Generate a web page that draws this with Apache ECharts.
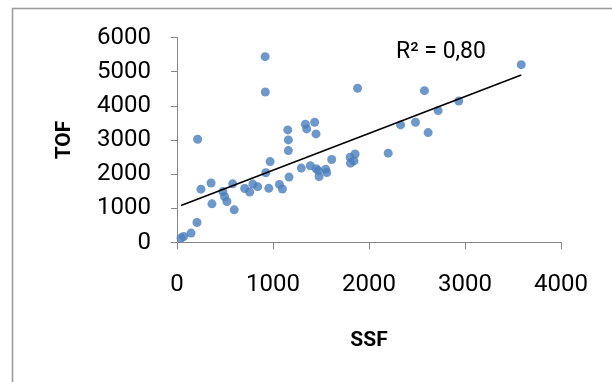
<!DOCTYPE html>
<html>
<head>
<meta charset="utf-8">
<script src="https://cdn.jsdelivr.net/npm/echarts@6/dist/echarts.min.js"></script>
<style>
html,body{margin:0;padding:0;background:#fff;}
#chart{width:612px;height:382px;}
</style>
</head>
<body>
<div id="chart"></div>
<script>
// Data
const ssf = [42, 69, 146, 208, 215, 249, 355, 364, 478, 495, 520, 580, 596, 705, 757, 790, 840, 918, 920, 925, 956, 970, 1067, 1098, 1154, 1160, 1160, 1167, 1295, 1337, 1351, 1389, 1434, 1448, 1450, 1480, 1472, 1549, 1560, 1611, 1803, 1807, 1843, 1855, 1881, 2200, 2329, 2484, 2578, 2616, 2720, 2935, 3586];
const tof = [129, 175, 275, 585, 3023, 1561, 1740, 1132, 1491, 1345, 1199, 1716, 956, 1580, 1478, 1710, 1635, 5439, 4406, 2040, 1585, 2368, 1700, 1565, 3295, 3003, 2690, 1915, 2178, 3461, 3325, 2247, 3520, 3178, 2160, 1930, 2105, 2146, 2047, 2430, 2497, 2322, 2389, 2590, 4514, 2614, 3442, 3520, 4444, 3216, 3860, 4143, 5205];
const xTicks = [0, 1000, 2000, 3000, 4000];
const yTicks = [0, 1000, 2000, 3000, 4000, 5000, 6000];
const xName = 'SSF';
const yName = 'TOF';
const r2Label = 'R² = 0,80';

// least-squares linear trend line computed from the data
const n = ssf.length;
let sx = 0, sy = 0, sxx = 0, sxy = 0;
for (let i = 0; i < n; i++) { sx += ssf[i]; sy += tof[i]; sxx += ssf[i]*ssf[i]; sxy += ssf[i]*tof[i]; }
const slope = (n*sxy - sx*sy) / (n*sxx - sx*sx);
const intercept = (sy - slope*sx) / n;
const xMin = Math.min(...ssf), xMax = Math.max(...ssf);
const trend = [[xMin, intercept + slope*xMin], [xMax, intercept + slope*xMax]];

const points = ssf.map((x, i) => [x, tof[i]]);
const FONT = 'Roboto';
const axisColor = '#868686';

const chart = echarts.init(document.getElementById('chart'), null, {renderer: 'canvas'});
chart.setOption({
  animation: false,
  backgroundColor: '#fff',
  grid: {left: 177, right: 51, top: 37.5, bottom: 139.5, containLabel: false},
  xAxis: {
    type: 'value', min: xTicks[0], max: xTicks[xTicks.length-1], interval: 1000,
    name: xName, nameLocation: 'middle', nameGap: 88,
    nameTextStyle: {fontFamily: FONT, fontWeight: 'bold', fontSize: 21, color: '#000'},
    axisLine: {show: true, lineStyle: {color: axisColor, width: 1}},
    axisTick: {show: true, length: 7, lineStyle: {color: axisColor}},
    axisLabel: {fontFamily: FONT, fontSize: 24, color: '#000', margin: 30, formatter: v => String(v)},
    splitLine: {show: false}
  },
  yAxis: {
    type: 'value', min: yTicks[0], max: yTicks[yTicks.length-1], interval: 1000,
    name: yName, nameLocation: 'middle', nameGap: 102, nameRotate: 90,
    nameTextStyle: {fontFamily: FONT, fontWeight: 'bold', fontSize: 21, color: '#000'},
    axisLine: {show: true, lineStyle: {color: axisColor, width: 1}},
    axisTick: {show: true, length: 6, lineStyle: {color: axisColor}},
    axisLabel: {fontFamily: FONT, fontSize: 24, color: '#000', margin: 26, formatter: v => String(v)},
    splitLine: {show: false}
  },
  series: [
    {
      type: 'scatter', data: points, symbol: 'circle', symbolSize: 9,
      itemStyle: {color: '#4A7EBB'}, z: 3
    },
    {
      type: 'line', data: trend, symbol: 'none', showSymbol: false,
      lineStyle: {color: '#000', width: 1.6}, z: 4
    }
  ],
  graphic: [
    {type: 'rect', shape: {x: 12.5, y: 8.5, width: 700, height: 500},
     style: {fill: null, stroke: '#999', lineWidth: 1.5}, silent: true},
    {type: 'text', left: 396, top: 41,
     style: {text: r2Label, fontFamily: FONT, fontSize: 23, fill: '#000'}}
  ]
});
</script>
</body>
</html>
